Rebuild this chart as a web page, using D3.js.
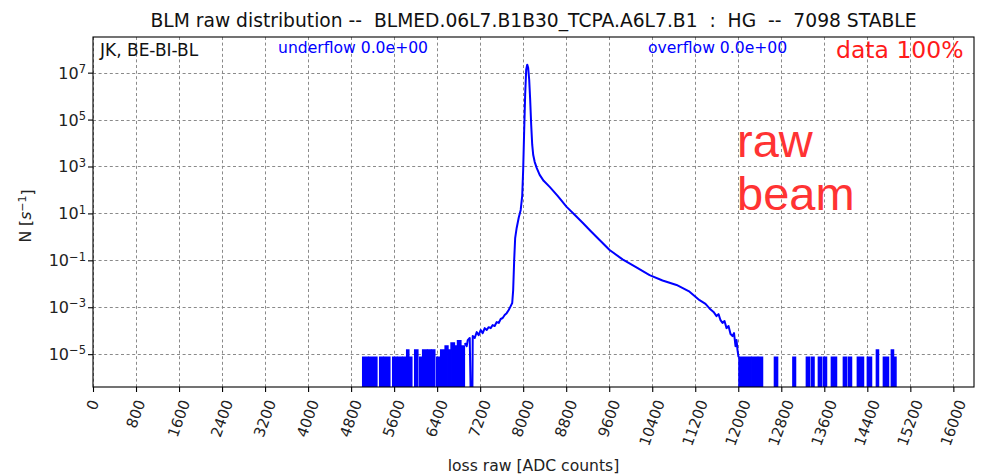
<!DOCTYPE html>
<html>
<head>
<meta charset="utf-8">
<script src="https://cdn.jsdelivr.net/npm/d3@7"></script>
<style>
  html, body { margin: 0; padding: 0; background: #fff; }
  svg { display: block; font-family: "DejaVu Sans", sans-serif; }
  text { white-space: pre; }
</style>
</head>
<body>
<svg id="chart" width="984" height="474"></svg>
<script>
// ---- data -------------------------------------------------------------
const titleText = "BLM raw distribution --  BLMED.06L7.B1B30_TCPA.A6L7.B1  :  HG  --  7098 STABLE";

const xTickValues = [0, 800, 1600, 2400, 3200, 4000, 4800, 5600, 6400, 7200, 8000,
                     8800, 9600, 10400, 11200, 12000, 12800, 13600, 14400, 15200, 16000];
const yTickExponents = [-5, -3, -1, 1, 3, 5, 7];

// sparse single-count bins below the beam peak: [start ADC, end ADC, rate s^-1]
const lowSpikeStart = [5017, 5129, 5333, 5408, 5575, 5668, 5761, 5835, 5891, 5984, 6077,
                       6132, 6225, 6300, 6393, 6467, 6550, 6610, 6660, 6728, 6780, 6850];
const lowSpikeEnd   = [5110, 5278, 5389, 5519, 5649, 5742, 5816, 5872, 5928, 6040, 6114,
                       6207, 6281, 6355, 6448, 6541, 6600, 6650, 6720, 6770, 6840, 6905];
const lowSpikeRate  = [7.4e-6, 7.4e-6, 7.4e-6, 7.4e-6, 7.4e-6, 7.4e-6, 7.4e-6, 1.48e-5, 7.4e-6, 1.48e-5, 7.4e-6,
                       1.48e-5, 1.48e-5, 1.48e-5, 7.4e-6, 1.48e-5, 2.2e-5, 1.48e-5, 3.0e-5, 2.2e-5, 3.7e-5, 2.2e-5];

// continuous part of the distribution
const curveAdc = [6913, 6950, 6969, 7006, 7034, 7052, 7062, 7099, 7136, 7173, 7210, 7247, 7285, 7322,
                  7359, 7396, 7433, 7470, 7508, 7545, 7582, 7619, 7656, 7693, 7731, 7768, 7796, 7814,
                  7833, 7851, 7879, 7917, 7954, 7982, 8000, 8019, 8037, 8056, 8075, 8093, 8112, 8130,
                  8149, 8168, 8186, 8214, 8251, 8307, 8381, 8493, 8641, 8808, 8957, 9106, 9254, 9421,
                  9607, 9848, 10090, 10351, 10592, 10852, 11094, 11280, 11391, 11465, 11540, 11596,
                  11633, 11670, 11707, 11744, 11782, 11819, 11856, 11893, 11921, 11949, 11968, 11986, 12005];
const curveRate = [2.95e-5, 2.19e-5, 3.98e-5, 4.9e-5, 0, 0, 5.9e-5, 4.9e-5, 8.7e-5, 6.5e-5, 1.07e-4, 7.9e-5,
                   1.29e-4, 1.07e-4, 1.41e-4, 1.29e-4, 1.74e-4, 1.58e-4, 2.34e-4, 2.14e-4, 3.16e-4, 3.47e-4,
                   4.68e-4, 5.6e-4, 7.6e-4, 1.12e-3, 1.51e-3, 5.4e-3, 0.105, 0.89, 2.4, 6.5, 14.1, 56, 724,
                   3.7e4, 1.15e6, 1.35e7, 2.19e7, 1.62e7, 5.0e6, 7.1e5, 6.0e4, 8.5e3, 3.16e3, 1.58e3, 871,
                   437, 245, 135, 56, 19, 8.7, 4.0, 1.78, 0.74, 0.275, 0.11, 0.052, 0.0234, 0.0138, 8.9e-3,
                   4.6e-3, 2.0e-3, 1.38e-3, 8.9e-4, 6.3e-4, 4.2e-4, 5.1e-4, 2.8e-4, 2.14e-4, 2.6e-4, 1.29e-4,
                   1.58e-4, 7.2e-5, 5.9e-5, 7.9e-5, 2.19e-5, 3.98e-5, 1.48e-5, 7.4e-6];

// sparse bins above the tail
const highSpikeStart = [12014, 12260, 12376, 12674, 13017, 13268, 13361, 13491, 13584, 13733,
                        13956, 14049, 14216, 14402, 14570, 14700, 14848, 14886];
const highSpikeEnd   = [12240, 12358, 12450, 12730, 13064, 13324, 13408, 13547, 13640, 13826,
                        14012, 14105, 14328, 14477, 14607, 14793, 14886, 14932];
const highSpikeRate  = [7.4e-6, 7.4e-6, 7.4e-6, 7.4e-6, 7.4e-6, 7.4e-6, 7.4e-6, 7.4e-6, 7.4e-6, 7.4e-6,
                        7.4e-6, 7.4e-6, 7.4e-6, 7.4e-6, 1.48e-5, 7.4e-6, 1.48e-5, 7.4e-6];

// ---- layout -----------------------------------------------------------
const svg = d3.select("#chart");
const plot = { left: 93, right: 974, top: 37, bottom: 387 };
const blue = "#0000ff";

const x = d3.scaleLinear().domain([0, 16384]).range([plot.left, plot.right]);
const y = d3.scaleLog().domain([Math.pow(10, -6.40), Math.pow(10, 8.52)]).range([plot.bottom, plot.top]);
const yOf = v => v > 0 ? y(v) : plot.bottom + 40;   // empty bins fall off the bottom

svg.append("defs").append("clipPath").attr("id", "plotClip")
  .append("rect")
  .attr("x", plot.left).attr("y", plot.top)
  .attr("width", plot.right - plot.left).attr("height", plot.bottom - plot.top);

// grid
const grid = svg.append("g").attr("stroke", "#8a8a8a").attr("stroke-width", 1)
  .attr("stroke-dasharray", "3,2.6");
grid.selectAll("line.gx").data(xTickValues).join("line")
  .attr("x1", d => Math.round(x(d)) + 0.5).attr("x2", d => Math.round(x(d)) + 0.5)
  .attr("y1", plot.top).attr("y2", plot.bottom);
grid.selectAll("line.gy").data(yTickExponents).join("line")
  .attr("y1", d => Math.round(y(Math.pow(10, d))) + 0.5).attr("y2", d => Math.round(y(Math.pow(10, d))) + 0.5)
  .attr("x1", plot.left).attr("x2", plot.right);

// data
const dataG = svg.append("g").attr("clip-path", "url(#plotClip)");

function spikes(starts, ends, rates) {
  return starts.map((s, i) => ({ x0: s, x1: ends[i], v: rates[i] }));
}
const allSpikes = spikes(lowSpikeStart, lowSpikeEnd, lowSpikeRate)
  .concat(spikes(highSpikeStart, highSpikeEnd, highSpikeRate));

const spikeArea = d3.area()
  .x(d => x(d[0])).y0(plot.bottom + 40).y1(d => yOf(d[1]));
dataG.selectAll("path.spike").data(allSpikes).join("path")
  .attr("class", "spike")
  .attr("d", d => spikeArea([[d.x0, d.v], [d.x1, d.v]]))
  .attr("fill", blue).attr("stroke", blue).attr("stroke-width", 1.6);

const curvePts = curveAdc.map((a, i) => [a, curveRate[i]]);
const line = d3.line().x(d => x(d[0])).y(d => yOf(d[1]));
dataG.append("path")
  .attr("d", line(curvePts))
  .attr("fill", "none").attr("stroke", blue).attr("stroke-width", 2)
  .attr("stroke-linejoin", "round");

// axes
const xAxis = d3.axisBottom(x).tickValues(xTickValues).tickSize(5).tickFormat("");
const xg = svg.append("g").attr("transform", `translate(0,${plot.bottom})`).call(xAxis);
xg.select(".domain").remove();
xg.selectAll(".tick line").attr("stroke", "#000").attr("stroke-width", 1.1);

const yAxis = d3.axisLeft(y).tickValues(yTickExponents.map(e => Math.pow(10, e))).tickSize(5).tickFormat("");
const yg = svg.append("g").attr("transform", `translate(${plot.left},0)`).call(yAxis);
yg.select(".domain").remove();
yg.selectAll(".tick line").attr("stroke", "#000").attr("stroke-width", 1.1);

svg.append("rect")
  .attr("x", plot.left).attr("y", plot.top)
  .attr("width", plot.right - plot.left).attr("height", plot.bottom - plot.top)
  .attr("fill", "none").attr("stroke", "#000").attr("stroke-width", 1.1);

// x tick labels, rotated 70 degrees
const tickFont = 15;
const ang = 70 * Math.PI / 180;
const xl = svg.append("g").attr("font-size", tickFont).attr("fill", "#222");
xTickValues.forEach(v => {
  const t = xl.append("text").text(String(v))
    .attr("text-anchor", "middle").attr("dominant-baseline", "central");
  const w = t.node().getComputedTextLength();
  const h = tickFont * 1.0;
  const bh = w * Math.sin(ang) + h * Math.cos(ang);
  const cx = x(v), cy = plot.bottom + 11 + bh / 2;
  t.attr("transform", `translate(${cx},${cy}) rotate(-70)`);
});

// y tick labels, 10^n
const yFont = 16;
const yl = svg.append("g").attr("font-size", yFont).attr("fill", "#222");
yTickExponents.forEach(e => {
  const t = yl.append("text")
    .attr("x", plot.left - 7).attr("y", y(Math.pow(10, e)) + 6)
    .attr("text-anchor", "end");
  t.append("tspan").text("10");
  t.append("tspan").attr("dy", "-0.5em").attr("font-size", yFont * 0.72)
    .text(e < 0 ? "\u2212" + Math.abs(e) : String(e));
});

// axis titles
svg.append("text")
  .attr("x", (plot.left + plot.right) / 2).attr("y", 471)
  .attr("text-anchor", "middle").attr("font-size", 15.6).attr("fill", "#222")
  .text("loss raw [ADC counts]");

const ylab = svg.append("text")
  .attr("transform", `translate(31,${(plot.top + plot.bottom) / 2 + 4}) rotate(-90)`)
  .attr("text-anchor", "middle").attr("font-size", 15.6).attr("fill", "#222");
ylab.append("tspan").text("N [");
ylab.append("tspan").attr("font-style", "italic").text("s");
ylab.append("tspan").attr("dy", "-0.5em").attr("font-size", 11).text("\u22121");
ylab.append("tspan").attr("dy", "0.5em").text("]");

// title
svg.append("text")
  .attr("x", (plot.left + plot.right) / 2).attr("y", 27)
  .attr("text-anchor", "middle").attr("font-size", 18.7).attr("fill", "#111")
  .text(titleText);

// annotations inside the axes
svg.append("text").attr("x", 100).attr("y", 56)
  .attr("font-size", 17).attr("fill", "#111").text("JK, BE-BI-BL");
svg.append("text").attr("x", 278).attr("y", 53)
  .attr("font-size", 15.6).attr("fill", blue).text("underflow 0.0e+00");
svg.append("text").attr("x", 648).attr("y", 53)
  .attr("font-size", 15.6).attr("fill", blue).text("overflow 0.0e+00");
svg.append("text").attr("x", 836).attr("y", 58)
  .attr("font-size", 23.5).attr("fill", "#ff1a1a").text("data 100%");
svg.append("text").attr("x", 737).attr("y", 157)
  .attr("font-family", "Liberation Sans, Arial, sans-serif")
  .attr("font-size", 47).attr("fill", "#ff3333").text("raw");
svg.append("text").attr("x", 737).attr("y", 210)
  .attr("font-family", "Liberation Sans, Arial, sans-serif")
  .attr("font-size", 47).attr("fill", "#ff3333").text("beam");
</script>
</body>
</html>
